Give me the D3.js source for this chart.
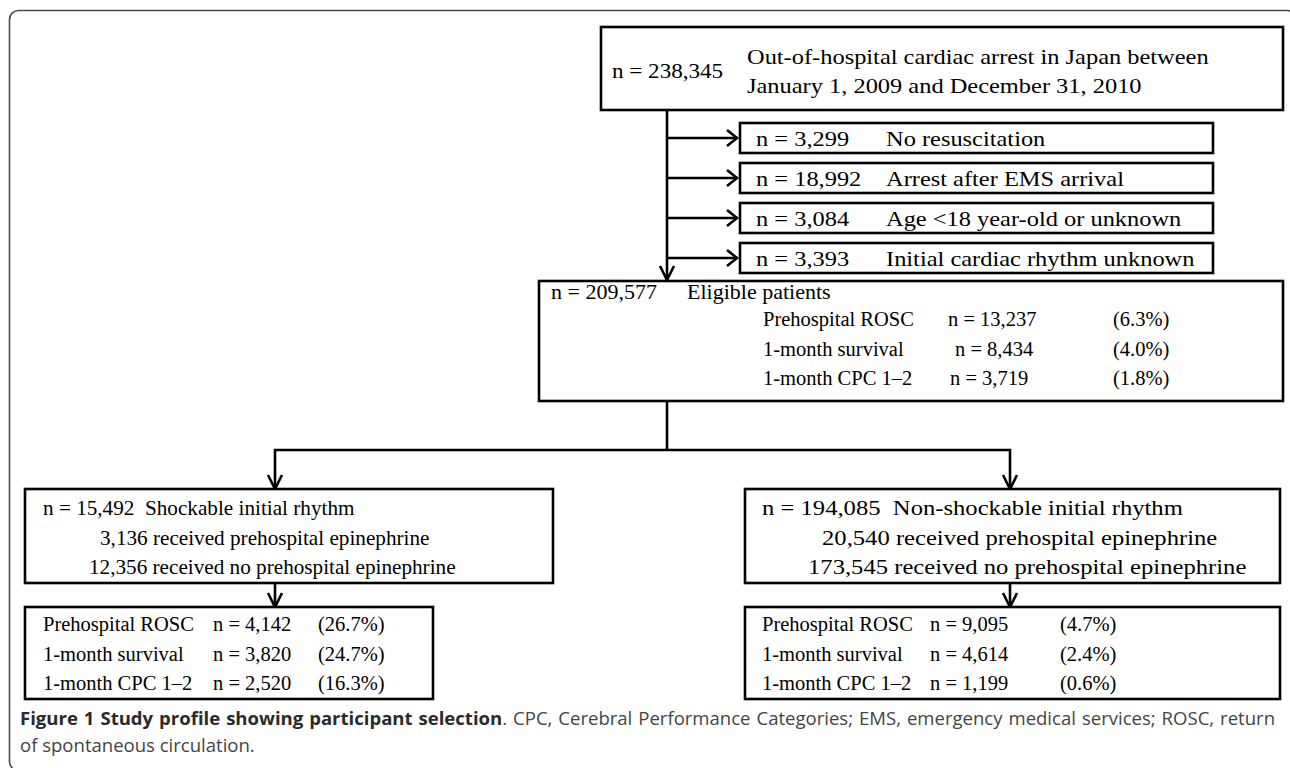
<!DOCTYPE html>
<html>
<head>
<meta charset="utf-8">
<script src="https://cdn.jsdelivr.net/npm/d3@7"></script>
<style>
  html, body { margin: 0; padding: 0; background: #fff; }
  svg { display: block; }
  text { white-space: pre; }
  .serif { font-family: "Liberation Serif", "Times New Roman", serif; fill: #000; }
  .cap { font-family: "Open Sans", "Noto Sans", sans-serif; fill: #444; }
</style>
</head>
<body>
<svg id="chart" width="1290" height="768"></svg>
<script>
// ---------------- data ----------------
const totalN = "238,345";
const totalLines = ["Out-of-hospital cardiac arrest in Japan between", "January 1, 2009 and December 31, 2010"];

const exclusionCounts = ["3,299", "18,992", "3,084", "3,393"];
const exclusionLabels = ["No resuscitation", "Arrest after EMS arrival", "Age <18 year-old or unknown", "Initial cardiac rhythm unknown"];

const eligibleN = "209,577";
const eligibleLabel = "Eligible patients";

const outcomeLabels = ["Prehospital ROSC", "1-month survival", "1-month CPC 1\u20132"];
const eligibleOutcomeN = ["13,237", "8,434", "3,719"];
const eligibleOutcomePct = ["6.3%", "4.0%", "1.8%"];

const groupNames = ["Shockable initial rhythm", "Non-shockable initial rhythm"];
const groupN = ["15,492", "194,085"];
const groupEpi = ["3,136", "20,540"];
const groupNoEpi = ["12,356", "173,545"];

const shockableOutcomeN = ["4,142", "3,820", "2,520"];
const shockableOutcomePct = ["26.7%", "24.7%", "16.3%"];
const nonShockableOutcomeN = ["9,095", "4,614", "1,199"];
const nonShockableOutcomePct = ["4.7%", "2.4%", "0.6%"];

const captionBold = "Figure 1 Study profile showing participant selection";
const captionRest1 = ". CPC, Cerebral Performance Categories; EMS, emergency medical services; ROSC, return";
const captionLine2 = "of spontaneous circulation.";

// ---------------- drawing ----------------
const svg = d3.select("#chart");
const LW = 2.6;

// outer rounded frame
svg.append("rect")
  .attr("x", 9.5).attr("y", 10.5).attr("width", 1287).attr("height", 760)
  .attr("rx", 9).attr("fill", "none").attr("stroke", "#4a4a4a").attr("stroke-width", 1.6);

function box(x, y, w, h) {
  svg.append("rect").attr("x", x).attr("y", y).attr("width", w).attr("height", h)
    .attr("fill", "#fff").attr("stroke", "#000").attr("stroke-width", LW);
}
function line(pts) {
  svg.append("path").attr("d", d3.line()(pts))
    .attr("fill", "none").attr("stroke", "#000").attr("stroke-width", LW)
    .attr("stroke-linejoin", "miter");
}
function arrowRight(x, y) { line([[x - 10, y - 8], [x, y], [x - 10, y + 8]]); }
function arrowDown(x, y) { line([[x - 7, y - 14], [x, y], [x + 7, y - 14]]); }
function txt(x, y, s, size, sx) {
  return svg.append("text").attr("class", "serif")
    .attr("transform", `translate(${x},${y}) scale(${sx || 1},1)`)
    .attr("font-size", size).text(s);
}

// top box
box(601, 27, 682, 83);
txt(612, 78, "n = " + totalN, 21, 1.1);
const topLineY = d3.scalePoint().domain(d3.range(totalLines.length)).range([64, 93]);
totalLines.forEach((s, i) => txt(747, topLineY(i), s, 22, 1.11));

// main trunk
const mainX = 667;
line([[mainX, 110], [mainX, 280]]);
arrowDown(mainX, 280);

// exclusion boxes
const exY = d3.scalePoint().domain(d3.range(exclusionCounts.length)).range([138, 258]);
exclusionCounts.forEach((c, i) => {
  const cy = exY(i);
  box(740, cy - 15, 473, 30);
  line([[mainX, cy], [737, cy]]);
  arrowRight(737, cy);
  txt(756, cy + 8, "n = " + c, 22, 1.11);
  txt(886, cy + 8, exclusionLabels[i], 22, 1.11);
});

// eligible box
box(539, 281, 744, 120);
txt(551, 299, "n = " + eligibleN, 22);
txt(687, 299, eligibleLabel, 22);
const elY = d3.scalePoint().domain(d3.range(outcomeLabels.length)).range([326, 385]);
outcomeLabels.forEach((l, i) => {
  txt(763, elY(i), l, 20.5);
  txt([948, 955, 950][i], elY(i), "n = " + eligibleOutcomeN[i], 20.5);
  txt(1113, elY(i), "(" + eligibleOutcomePct[i] + ")", 20.5);
});

// split
const groupX = d3.scalePoint().domain(groupNames).range([275, 1010]);
line([[mainX, 401], [mainX, 450]]);
line([[groupX(groupNames[0]), 489], [groupX(groupNames[0]), 450], [groupX(groupNames[1]), 450], [groupX(groupNames[1]), 489]]);
groupNames.forEach(g => arrowDown(groupX(g), 489));

// group boxes
const gBox = [
  {x: 25, w: 528, tx: 43, e: 100, ne: 89, fs: 21.2, sx: 1},
  {x: 745, w: 535, tx: 762, e: 822, ne: 808, fs: 22, sx: 1.12}
];
const gY = d3.scalePoint().domain([0, 1, 2]).range([515, 574]);
groupNames.forEach((g, i) => {
  const b = gBox[i];
  box(b.x, 489, b.w, 94);
  txt(b.tx, gY(0), "n = " + groupN[i] + "  " + g, b.fs, b.sx);
  txt(b.e, gY(1), groupEpi[i] + " received prehospital epinephrine", b.fs, b.sx);
  txt(b.ne, gY(2), groupNoEpi[i] + " received no prehospital epinephrine", b.fs, b.sx);
  const gx = groupX(g);
  line([[gx, 583], [gx, 607]]);
  arrowDown(gx, 607);
});

// outcome boxes
const outcomes = [
  {n: shockableOutcomeN, p: shockableOutcomePct, x: 25, w: 408, lx: 43, nx: 213, px: 318},
  {n: nonShockableOutcomeN, p: nonShockableOutcomePct, x: 745, w: 535, lx: 762, nx: 930, px: 1060}
];
const oY = d3.scalePoint().domain([0, 1, 2]).range([631, 690]);
outcomes.forEach(o => {
  box(o.x, 607, o.w, 92);
  outcomeLabels.forEach((l, i) => {
    txt(o.lx, oY(i), l, 20.5);
    txt(o.nx, oY(i), "n = " + o.n[i], 20.5);
    txt(o.px, oY(i), "(" + o.p[i] + ")", 20.5);
  });
});

// caption (justified first line)
const capFS = 17.5, capSX = 1.06, capX = 20, capW = 1255;
const cap1 = svg.append("text").attr("class", "cap")
  .attr("transform", `translate(${capX},725) scale(${capSX},1)`).attr("font-size", capFS);
cap1.append("tspan").attr("font-weight", "bold").attr("fill", "#2a2a2a").text(captionBold);
cap1.append("tspan").text(captionRest1);
const natural = cap1.node().getComputedTextLength();
const nSpaces = (captionBold + captionRest1).split(" ").length - 1;
const target = capW / capSX;
if (natural < target) {
  cap1.attr("word-spacing", (target - natural) / nSpaces);
} else {
  cap1.attr("textLength", target).attr("lengthAdjust", "spacingAndGlyphs");
}
svg.append("text").attr("class", "cap")
  .attr("transform", `translate(${capX},752) scale(${capSX},1)`)
  .attr("font-size", capFS).text(captionLine2);
</script>
</body>
</html>
